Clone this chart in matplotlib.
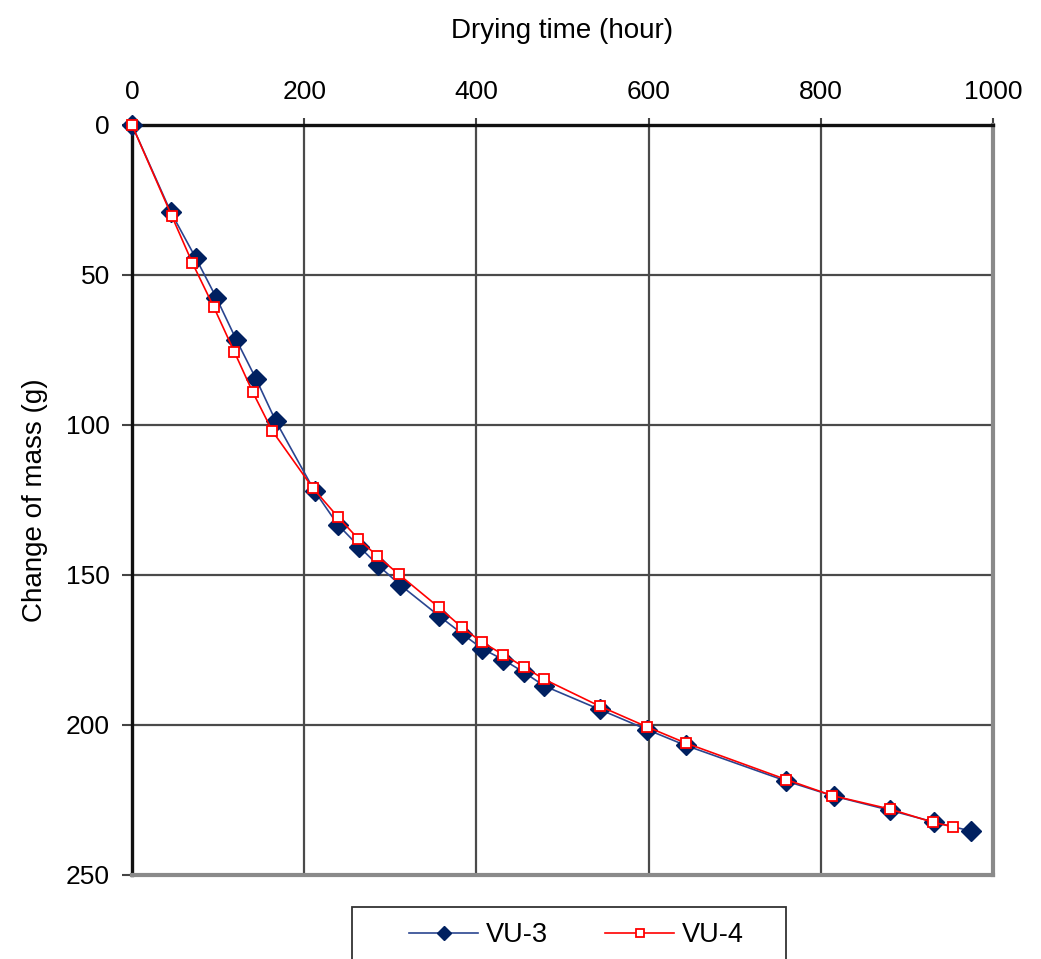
import matplotlib.pyplot as plt
from matplotlib.patches import Rectangle

plt.rcParams['font.family'] = ['Liberation Sans', 'DejaVu Sans']

# drying time (hour) and change of mass (g)
t_vu3 = [0, 45, 74, 98, 121, 144, 167, 212, 239, 264, 286, 311, 356, 383, 407, 431, 455, 479,
         543, 598, 643, 760, 815, 880, 932, 975]
m_vu3 = [0, 29, 44.3, 57.6, 71.5, 84.6, 98.7, 122, 133.2, 140.6, 146.8, 153.2, 163.5, 169.5, 174.6,
         178.2, 182.4, 187, 194.8, 201.5, 206.8, 218.7, 223.7, 228.4, 232.4, 235.4]

t_vu4 = [0, 46, 70, 95, 119, 140, 163, 210, 239, 263, 285, 310, 356, 383, 406, 431, 455, 479,
         543, 598, 643, 760, 813, 880, 930, 953]
m_vu4 = [0, 30.2, 45.9, 60.7, 75.7, 88.9, 102, 121, 130.6, 138, 143.7, 149.8, 160.7, 167.4, 172.3,
         176.5, 180.6, 184.8, 193.7, 200.6, 206, 218.2, 223.5, 228, 232.4, 233.9]

W, H = 1041, 959
fig = plt.figure(figsize=(W / 100, H / 100), dpi=100)
ax = fig.add_axes([132 / W, 1 - 875 / H, (993 - 132) / W, (875 - 125) / H])

ax.plot(t_vu3, m_vu3, color='#2a4590', lw=1.2, marker='D', ms=10,
        mfc='#002060', mec='#002060', label='VU-3', zorder=3, clip_on=False)
ax.plot(t_vu4, m_vu4, color='#ff0000', lw=1.2, marker='s', ms=7,
        mfc='white', mec='#ff0000', mew=1.3, label='VU-4', zorder=4, clip_on=False)

ax.set_xlim(0, 1000)
ax.set_ylim(250, 0)
ax.set_xticks(range(0, 1001, 200))
ax.set_yticks(range(0, 251, 50))
ax.xaxis.tick_top()
ax.xaxis.set_label_position('top')
ax.tick_params(axis='x', labelsize=19, length=5, width=1.5, color='#444444', pad=10)
ax.tick_params(axis='y', labelsize=19, length=7, width=1.5, color='#444444', pad=9)
ax.grid(True, color='#4a4a4a', lw=1.6, zorder=0)

for s in ['left', 'top']:
    ax.spines[s].set_color('#111111')
    ax.spines[s].set_linewidth(2.4)
for s in ['right', 'bottom']:
    ax.spines[s].set_color('#8a8a8a')
    ax.spines[s].set_linewidth(3)

ax.set_xlabel('Drying time (hour)', fontsize=20, labelpad=30)
ax.set_ylabel('Change of mass (g)', fontsize=20, labelpad=13)

# legend box, partly cut off at the bottom edge like the reference
fig.patches.append(Rectangle((352 / W, -0.05), (786 - 352) / W, 0.05 + 1 - 907 / H,
                             transform=fig.transFigure, fill=False,
                             edgecolor='#333333', lw=1.3))
leg = fig.legend(loc='center left', bbox_to_anchor=(409 / W, 1 - 935 / H), ncol=2,
                 fontsize=19.5, frameon=False, borderpad=0, borderaxespad=0,
                 handlelength=2.55, handletextpad=0.3, columnspacing=2.1, markerscale=0.75)

fig.savefig('out.png', dpi=100)
